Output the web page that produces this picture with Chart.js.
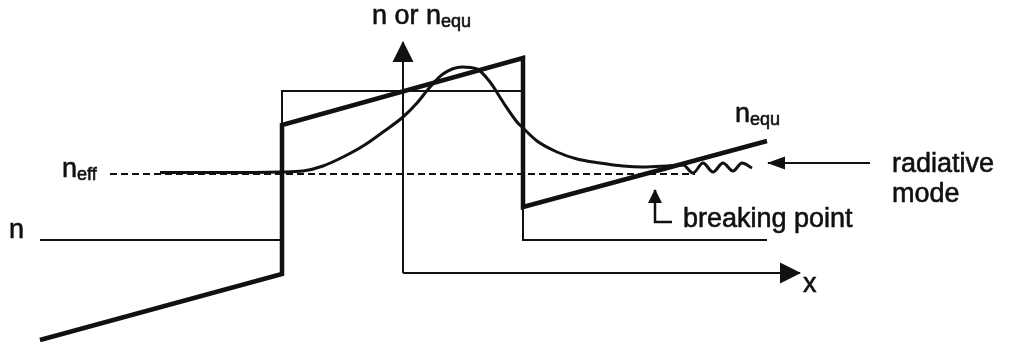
<!DOCTYPE html>
<html>
<head>
<meta charset="utf-8">
<script src="https://cdn.jsdelivr.net/npm/chart.js@4.4.1/dist/chart.umd.min.js"></script>
<style>
  html, body { margin: 0; padding: 0; background: #fff; }
  #wrap { width: 1010px; height: 349px; }
</style>
</head>
<body>
<div id="wrap"><canvas id="guideChart"></canvas></div>
<script>
// x = position across the guide (0 at the axis origin), n = index value (arbitrary units)

// step index profile n(x)
const profileX = [-363, -121, -121, 120, 120, 364];
const profileN = [33, 33, 182, 182, 33, 33];

// tilted equivalent index n_equ(x) of the bent guide
const equX = [-363, -121, -121, 120, 120, 364];
const equN = [-67, -1, 148, 215, 66, 132];

// effective index level
const effX = [-293, 292];
const effN = [99, 99];

// mode field, leaking into a radiative wave past the breaking point
const modeX = [-243, -183, -123, -100, -80, -60, -40, -20, 0, 14, 27, 40, 59, 74, 87, 100, 114, 120,
               134, 154, 174, 197, 220, 240, 264, 280, 290, 300, 310, 320, 330, 339, 349];
const modeN = [100.5, 100.5, 101, 102, 107, 116, 127, 141, 156, 170, 186, 199, 206, 204, 191, 171, 151, 145,
               132, 121, 114, 110, 107, 106, 107, 108, 100, 110, 101, 110, 102, 110, 105];

// axes and pointer arrows
const axisVX = [0, 0], axisVN = [0, 231];
const axisHX = [0, 397], axisHN = [0, 0];
const radArrowX = [467, 365], radArrowN = [110, 110];
const breakArrowX = [269, 252, 252], breakArrowN = [51, 51, 83];

// text labels: main text, subscript, anchor (left, baseline)
const labelText = ['n or n', 'n', 'n', 'n', 'x', 'radiative', 'mode', 'breaking point'];
const labelSub  = ['equ', '', 'eff', 'equ', '', '', '', ''];
const labelX    = [-31, -394, -341, 332, 400, 489, 489, 280];
const labelN    = [249, 35, 96, 151, -19, 101, 71, 46];

const INK = '#111';
const FONT = '"Liberation Sans", Arial, sans-serif';

const pts = (xs, ns) => xs.map((x, i) => ({ x: x, y: ns[i] }));

function path(xs, ns, width, extra) {
    return Object.assign({
        data: pts(xs, ns),
        borderColor: INK,
        borderWidth: width,
        pointRadius: 0,
        tension: 0,
        fill: false
    }, extra || {});
}

// filled arrowhead on the last segment of a dataset
const arrowHeads = {
    id: 'arrowHeads',
    afterDatasetsDraw(chart) {
        const ctx = chart.ctx;
        chart.data.datasets.forEach((ds, i) => {
            if (!ds.arrowHead) return;
            const p = chart.getDatasetMeta(i).data;
            const a = p[p.length - 2], b = p[p.length - 1];
            const ang = Math.atan2(b.y - a.y, b.x - a.x);
            const len = ds.arrowHead[0], half = ds.arrowHead[1];
            ctx.save();
            ctx.translate(b.x, b.y);
            ctx.rotate(ang);
            ctx.beginPath();
            ctx.moveTo(1, 0);
            ctx.lineTo(-len, -half);
            ctx.lineTo(-len, half);
            ctx.closePath();
            ctx.fillStyle = ds.borderColor;
            ctx.fill();
            ctx.restore();
        });
    }
};

// labels with optional subscripts, lightly stroked to match the heavy print
const textLabels = {
    id: 'textLabels',
    afterDraw(chart) {
        const ctx = chart.ctx;
        const sx = chart.scales.x, sy = chart.scales.y;
        ctx.save();
        ctx.fillStyle = INK;
        ctx.strokeStyle = INK;
        ctx.lineWidth = 0.6;
        ctx.textBaseline = 'alphabetic';
        ctx.textAlign = 'left';
        labelText.forEach((t, i) => {
            const px = sx.getPixelForValue(labelX[i]);
            const py = sy.getPixelForValue(labelN[i]);
            ctx.font = '27px ' + FONT;
            ctx.fillText(t, px, py);
            ctx.strokeText(t, px, py);
            if (labelSub[i]) {
                const w = ctx.measureText(t).width;
                ctx.font = '18px ' + FONT;
                ctx.fillText(labelSub[i], px + w, py + 3);
                ctx.strokeText(labelSub[i], px + w, py + 3);
            }
        });
        ctx.restore();
    }
};

new Chart(document.getElementById('guideChart'), {
    type: 'line',
    data: {
        datasets: [
            path(profileX, profileN, 2),
            path(equX, equN, 4.5, { borderJoinStyle: 'miter' }),
            path(effX, effN, 2, { borderDash: [7, 4] }),
            path(modeX, modeN, 3, { cubicInterpolationMode: 'monotone' }),
            path(axisVX, axisVN, 2, { arrowHead: [20, 10.5] }),
            path(axisHX, axisHN, 2, { arrowHead: [20, 10.5] }),
            path(radArrowX, radArrowN, 2, { arrowHead: [17, 6.5] }),
            path(breakArrowX, breakArrowN, 2.5, { arrowHead: [13, 7], borderJoinStyle: 'miter' })
        ]
    },
    options: {
        responsive: true,
        maintainAspectRatio: false,
        animation: false,
        layout: { padding: 0 },
        scales: {
            x: { type: 'linear', min: -403, max: 607, display: false },
            y: { type: 'linear', min: -76, max: 273, display: false }
        },
        plugins: {
            legend: { display: false },
            tooltip: { enabled: false }
        }
    },
    plugins: [arrowHeads, textLabels]
});
</script>
</body>
</html>
